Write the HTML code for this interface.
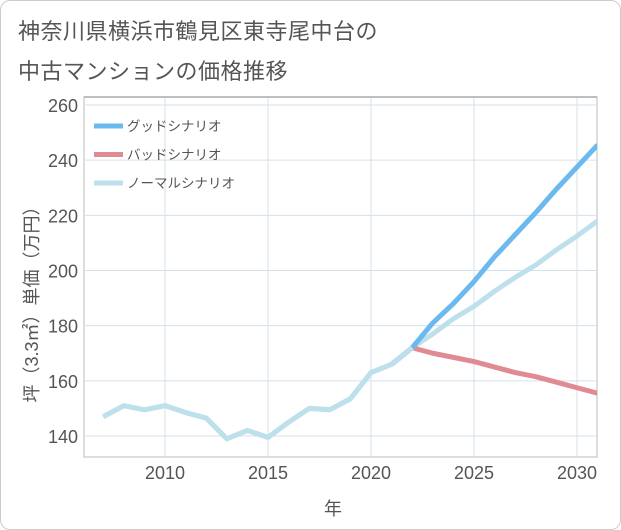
<!DOCTYPE html>
<html><head><meta charset="utf-8">
<style>
html,body{margin:0;padding:0;background:#fff;}
body{width:621px;height:530px;overflow:hidden;font-family:"Liberation Sans","Noto Sans CJK JP",sans-serif;}
#frame{position:absolute;left:0;top:0;width:619px;height:528px;border:1px solid #ccc;border-radius:10px;}
.title{position:absolute;left:18px;font-size:22px;color:#555;letter-spacing:0.5px;}
</style></head>
<body>
<div id="frame"></div>
<div class="title" style="top:14px">神奈川県横浜市鶴見区東寺尾中台の</div>
<div class="title" style="top:54px">中古マンションの価格推移</div>
<svg id="chart" width="621" height="530" style="position:absolute;left:0;top:0"></svg>
<script>
const years=[2007,2008,2009,2010,2011,2012,2013,2014,2015,2016,2017,2018,2019,2020,2021,2022,2023,2024,2025,2026,2027,2028,2029,2030,2031];
const normalVals=[147,151,149.5,151,148.5,146.5,139,142,139.5,145,150,149.5,153.5,163,166,172,177,182.5,187,192.5,197.5,202,207.5,212.5,218];
const goodYears=[2021,2022,2023,2024,2025,2026,2027,2028,2029,2030,2031];
const goodVals=[166,172,181,188,196,205,213,221,229.5,237.5,245.5];
const badYears=[2021,2022,2023,2024,2025,2026,2027,2028,2029,2030,2031];
const badVals=[166,172,170,168.5,167,165,163,161.5,159.5,157.5,155.5];
const yTicks=[140,160,180,200,220,240,260];
const xTicks=[2010,2015,2020,2025,2030];

const L=84,R=597,T=97,B=457;
const x=v=>165+(v-2010)*(577-165)/20;
const y=v=>436-(v-140)*(436-105)/120;
const svg=document.getElementById('chart');
const NS='http://www.w3.org/2000/svg';
function mk(t,a){const e=document.createElementNS(NS,t);for(const k in a)e.setAttribute(k,a[k]);svg.appendChild(e);return e;}

// plot border
const bg=mk('rect',{x:L,y:T,width:R-L,height:B-T,fill:'#fff',stroke:'#bbb','stroke-width':1});


// grid
yTicks.forEach(t=>{
  const g=mk('line',{x1:L,x2:R,y1:y(t),y2:y(t),stroke:'#d5e1ea','stroke-width':1});
  
  
  const tx=mk('text',{x:L-6,y:y(t)+7,'text-anchor':'end','font-size':18,fill:'#555'});
  tx.textContent=t;
  
  
});
xTicks.forEach(t=>{
  const g=mk('line',{x1:x(t),x2:x(t),y1:T,y2:B,stroke:'#d5e1ea','stroke-width':1});
  
  
  const tx=mk('text',{x:x(t),y:B+22,'text-anchor':'middle','font-size':18,fill:'#555'});
  tx.textContent=t;
  
  
});
// top border line
mk('line',{x1:L,x2:R,y1:T,y2:T,stroke:'#aaa','stroke-width':1.5});

const clip=mk('clipPath',{id:'pc'});
const cr=document.createElementNS(NS,'rect');cr.setAttribute('x',L);cr.setAttribute('y',T);cr.setAttribute('width',R-L);cr.setAttribute('height',B-T);clip.appendChild(cr);

function line(xs,vs,color,name){
  const p=mk('polyline',{points:xs.map((v,i)=>x(v)+','+y(vs[i])).join(' '),fill:'none',stroke:color,'stroke-width':5,'stroke-linejoin':'round','clip-path':'url(#pc)'});
  
  
}
line(years,normalVals,'#bde0ec','normal-scenario-line');
line(badYears,badVals,'#e08a93','bad-scenario-line');
line(goodYears,goodVals,'#6cb9ef','good-scenario-line');
// redraw normal over shared segment only up to 2022
line(years.slice(0,16),normalVals.slice(0,16),'#bde0ec','normal-history-line');

// legend
const leg=[['グッドシナリオ','#6cb9ef'],['バッドシナリオ','#e08a93'],['ノーマルシナリオ','#bde0ec']];
leg.forEach((l,i)=>{
  const yy=126+i*28.5;
  const s=mk('line',{x1:94,x2:123,y1:yy,y2:yy,stroke:l[1],'stroke-width':5});
  
  
  const t=mk('text',{x:127,y:yy+5,'font-size':13.5,fill:'#555'});
  t.textContent=l[0];
  
  
});
// axis titles
const yt=mk('text',{x:0,y:0,'font-size':18,fill:'#555','text-anchor':'middle',transform:'translate(38,300) rotate(-90)'});
yt.textContent='坪（3.3㎡）単価（万円）';


const xt=mk('text',{x:333,y:515,'font-size':18,fill:'#555','text-anchor':'middle'});
xt.textContent='年';


</script>
</body></html>
